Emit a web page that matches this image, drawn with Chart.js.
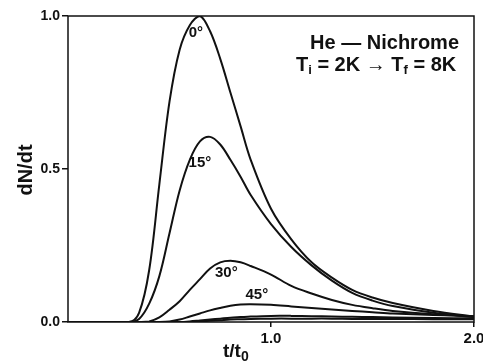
<!DOCTYPE html>
<html lang="en">
<head>
  <meta charset="UTF-8">
  <title>He - Nichrome dN/dt</title>
  <script src="https://cdn.jsdelivr.net/npm/chart.js"></script>
  <style>
    body { margin: 0; background: #fff; }
    #wrap { width: 483px; height: 362px; }
  </style>
</head>
<body>
  <div id="wrap"><canvas id="chart" width="483" height="362"></canvas></div>

  <script>
    // t/t0 sample points shared by every curve
    const tValues = [0, 0.3, 0.35, 0.4, 0.45, 0.5, 0.55, 0.6, 0.65, 0.7, 0.75, 0.8, 0.85, 0.9, 1.0, 1.1, 1.2, 1.3, 1.4, 1.5, 1.6, 1.8, 2.0];

    // dN/dt, one array per incidence angle
    const deg0  = [0, 0, 0.03, 0.17, 0.45, 0.72, 0.89, 0.97, 1.0, 0.95, 0.86, 0.75, 0.64, 0.53, 0.37, 0.27, 0.195, 0.145, 0.105, 0.08, 0.062, 0.036, 0.018];
    const deg15 = [0, 0, 0.01, 0.06, 0.15, 0.29, 0.43, 0.53, 0.59, 0.605, 0.58, 0.53, 0.475, 0.415, 0.32, 0.245, 0.185, 0.135, 0.095, 0.07, 0.052, 0.03, 0.016];
    const deg30 = [0, 0, 0, 0.002, 0.015, 0.04, 0.068, 0.105, 0.14, 0.175, 0.195, 0.2, 0.195, 0.183, 0.155, 0.118, 0.093, 0.072, 0.056, 0.045, 0.036, 0.025, 0.018];
    const deg45 = [0, 0, 0, 0, 0, 0.002, 0.008, 0.018, 0.028, 0.038, 0.046, 0.053, 0.057, 0.058, 0.056, 0.051, 0.046, 0.041, 0.036, 0.032, 0.028, 0.023, 0.019];
    const deg60 = [0, 0, 0, 0, 0, 0, 0, 0.002, 0.005, 0.008, 0.011, 0.014, 0.016, 0.018, 0.02, 0.02, 0.019, 0.018, 0.017, 0.016, 0.015, 0.013, 0.012];
    const deg75 = [0, 0, 0, 0, 0, 0, 0, 0, 0.002, 0.004, 0.006, 0.008, 0.009, 0.01, 0.011, 0.011, 0.011, 0.011, 0.01, 0.01, 0.01, 0.009, 0.009];

    const seriesList = [deg0, deg15, deg30, deg45, deg60, deg75];

    // angle labels placed next to their curves
    const angleLabels = [
      { text: '0°',  t: 0.63, v: 0.945 },
      { text: '15°', t: 0.65, v: 0.52 },
      { text: '30°', t: 0.78, v: 0.16 },
      { text: '45°', t: 0.93, v: 0.088 }
    ];

    const bold = (px) => `bold ${px}px "Liberation Sans", Arial, sans-serif`;
    const tickFont = (px) => ({ family: '"Liberation Sans", Arial, sans-serif', size: px, weight: 'bold' });

    // frame + annotations
    const decor = {
      id: 'decor',
      afterDraw(chart) {
        const { ctx, chartArea: a, scales } = chart;
        ctx.save();
        ctx.strokeStyle = '#111';
        ctx.lineWidth = 1.5;
        ctx.strokeRect(a.left, a.top, a.right - a.left, a.bottom - a.top);

        ctx.fillStyle = '#111';
        ctx.textBaseline = 'middle';
        ctx.textAlign = 'center';
        ctx.font = bold(15);
        angleLabels.forEach(l => {
          ctx.fillText(l.text, scales.x.getPixelForValue(l.t), scales.y.getPixelForValue(l.v));
        });

        // legend text top right
        ctx.textBaseline = 'alphabetic';
        ctx.textAlign = 'right';
        ctx.font = bold(20);
        ctx.fillText('He — Nichrome', 459, 49);

        ctx.textAlign = 'left';
        let x = 296;
        const piece = (txt, size, dy) => {
          ctx.font = bold(size);
          ctx.fillText(txt, x, 71 + dy);
          x += ctx.measureText(txt).width;
        };
        piece('T', 20, 0);
        piece('i', 13, 3);
        piece(' = 2K → T', 20, 0);
        piece('f', 13, 3);
        piece(' = 8K', 20, 0);

        // x title t/t0
        x = 223;
        ctx.font = bold(19);
        ctx.fillText('t/t', x, 357);
        x += ctx.measureText('t/t').width;
        ctx.font = bold(14);
        ctx.fillText('0', x, 361);

        // y title
        ctx.translate(26, 170);
        ctx.rotate(-Math.PI / 2);
        ctx.textAlign = 'center';
        ctx.textBaseline = 'middle';
        ctx.font = bold(20);
        ctx.fillText('dN/dt', 0, 0);
        ctx.restore();
      }
    };

    new Chart(document.getElementById('chart'), {
      type: 'line',
      data: {
        labels: tValues,
        datasets: seriesList.map(s => ({
          data: s.map((v, i) => ({ x: tValues[i], y: v })),
          borderColor: '#111',
          borderWidth: 2,
          pointRadius: 0,
          fill: false,
          tension: 0.35
        }))
      },
      options: {
        responsive: false,
        animation: false,
        layout: { padding: { top: 16, right: 9, left: 0, bottom: 0 } },
        plugins: { legend: { display: false }, tooltip: { enabled: false } },
        scales: {
          x: {
            type: 'linear', min: 0, max: 2,
            border: { display: false },
            grid: { drawOnChartArea: false, tickLength: 5, color: '#111', lineWidth: 1.5 },
            ticks: {
              stepSize: 1, maxRotation: 0, padding: 3, color: '#111', font: tickFont(15),
              callback: v => v === 0 ? null : v.toFixed(1)
            },
            afterFit: s => { s.height = 40; s.paddingLeft = 0; s.paddingRight = 0; }
          },
          y: {
            min: 0, max: 1,
            border: { display: false },
            grid: { drawOnChartArea: false, tickLength: 6, color: '#111', lineWidth: 1.5 },
            ticks: {
              stepSize: 0.5, padding: 2, color: '#111', font: tickFont(14),
              callback: v => v.toFixed(1)
            },
            afterFit: s => { s.width = 68; }
          }
        }
      },
      plugins: [decor]
    });
  </script>
</body>
</html>
